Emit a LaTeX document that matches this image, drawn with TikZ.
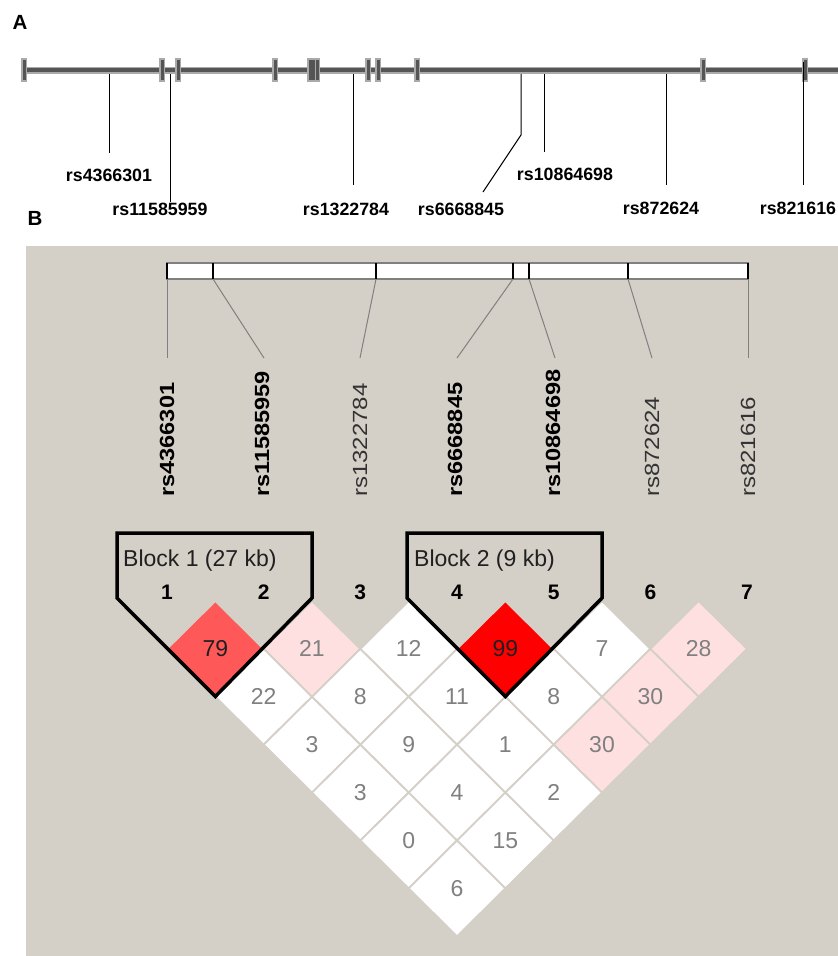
\documentclass[tikz,border=0pt]{standalone}
\usepackage{fontspec}
\setmainfont{Liberation Sans}
\definecolor{bgB}{RGB}{212,208,200}
\definecolor{pinkA}{RGB}{255,224,224}
\definecolor{redA}{RGB}{255,88,88}
\definecolor{redB}{RGB}{255,0,0}
\definecolor{numgrey}{RGB}{128,128,128}
\definecolor{darktxt}{RGB}{32,32,32}
\definecolor{trackcol}{RGB}{85,85,85}
\definecolor{halocol}{RGB}{170,170,170}
\definecolor{regtxt}{RGB}{50,50,50}
\begin{document}
\begin{tikzpicture}[x=1pt,y=-1pt,
  panel/.style={font=\fontsize{20.5}{22}\selectfont\bfseries, inner sep=0},
  alabel/.style={font=\fontsize{17.8}{20}\selectfont\bfseries, inner sep=0},
  trackhalo/.style={halocol, line width=7},
  trackcore/.style={trackcol, line width=3.5},
  tickhalo/.style={halocol, line width=6},
  tickcore/.style={trackcol, line width=3},
  snpline/.style={black, line width=1},
  bar/.style={draw=gray, line width=1.3, fill=white},
  bartick/.style={black, line width=2},
  conn/.style={gray, line width=1},
  rbold/.style={font=\fontsize{20.5}{22}\selectfont\bfseries, rotate=90, anchor=west, inner sep=0},
  rreg/.style={font=\fontsize{20.5}{22}\selectfont, text=regtxt, rotate=90, anchor=west, inner sep=0},
  numlab/.style={font=\fontsize{21}{22}\selectfont\bfseries, inner sep=0},
  blocklab/.style={font=\fontsize{23}{24}\selectfont, text=darktxt, inner sep=0, anchor=base west},
  cellbox/.style={draw=bgB, line width=1.8},
  cellnum/.style={font=\fontsize{23}{24}\selectfont, inner sep=0},
  blockline/.style={black, line width=3.5, line join=miter}]
\useasboundingbox (0,0) rectangle (838,956);

% ---------- Panel A ----------
\node[panel] (A) at (20,22) {A};
\coordinate (trL) at (22,70);
\coordinate (trR) at (838,70);
\draw[trackhalo] (trL) -- (trR);
\draw[trackcore] (trL) -- (trR);
\foreach \x in {24,162,178,275,310,313.5,317,368,378,417,703,805} {
  \draw[tickhalo] (\x,58) -- (\x,82);
}
\foreach \x in {24,162,178,275,310,313.5,317,368,378,417,703,805} {
  \draw[tickcore] (\x,60) -- (\x,80);
}
\node[alabel] (a1) at (109,175) {rs4366301};
\node[alabel] (a2) at (160,209) {rs11585959};
\node[alabel] (a3) at (346,209) {rs1322784};
\node[alabel] (a4) at (461,209) {rs6668845};
\node[alabel] (a5) at (565,174) {rs10864698};
\node[alabel] (a6) at (661,208) {rs872624};
\node[alabel] (a7) at (798,208) {rs821616};

\coordinate (s1) at (109,74);  \coordinate (f1) at (109,153);
\coordinate (s2) at (170,74);  \coordinate (f2) at (170,202);
\coordinate (s3) at (353,74);  \coordinate (f3) at (353,185);
\coordinate (s4) at (521,74);  \coordinate (k4) at (521,135); \coordinate (f4) at (483,192);
\coordinate (s5) at (544,74);  \coordinate (f5) at (544,152);
\coordinate (s6) at (666,74);  \coordinate (f6) at (666,185);
\coordinate (s7) at (803,62);  \coordinate (f7) at (803,185);
\draw[snpline] (s1) -- (f1);
\draw[snpline] (s2) -- (f2);
\draw[snpline] (s3) -- (f3);
\draw[snpline] (s4) -- (k4) -- (f4);
\draw[snpline] (s5) -- (f5);
\draw[snpline] (s6) -- (f6);
\draw[snpline] (s7) -- (f7);

% ---------- Panel B ----------
\node[panel] (B) at (35,218) {B};
\fill[bgB] (26,246) rectangle (838,956);

\draw[bar] (167,263) rectangle (748,279);
\foreach \x [count=\k] in {167,213,376,513,529,628,748} {
  \coordinate (t\k) at (\x,279);
  \draw[bartick] (\x,263) -- (t\k);
}
\foreach \x [count=\k] in {167,264,360,457,555,652,748} {
  \coordinate (e\k) at (\x,358);
  \draw[conn] (t\k) -- (e\k);
}

\node[rbold] (b1) at (167,497) {\scalebox{1.15}[1]{rs4366301}};
\node[rbold] (b2) at (262,497) {\scalebox{1.15}[1]{rs11585959}};
\node[rreg]  (b3) at (360,497) {\scalebox{1.17}[1]{rs1322784}};
\node[rbold] (b4) at (455,497) {\scalebox{1.15}[1]{rs6668845}};
\node[rbold] (b5) at (553,497) {\scalebox{1.15}[1]{rs10864698}};
\node[rreg]  (b6) at (652,497) {\scalebox{1.17}[1]{rs872624}};
\node[rreg]  (b7) at (748,497) {\scalebox{1.17}[1]{rs821616}};

% LD cells
\foreach \i/\j/\v/\f/\t in {
  1/2/79/redA/darktxt, 2/3/21/pinkA/numgrey, 3/4/12/white/numgrey,
  4/5/99/redB/darktxt, 5/6/7/white/numgrey, 6/7/28/pinkA/numgrey,
  1/3/22/white/numgrey, 2/4/8/white/numgrey, 3/5/11/white/numgrey,
  4/6/8/white/numgrey, 5/7/30/pinkA/numgrey,
  1/4/3/white/numgrey, 2/5/9/white/numgrey, 3/6/1/white/numgrey,
  4/7/30/pinkA/numgrey,
  1/5/3/white/numgrey, 2/6/4/white/numgrey, 3/7/2/white/numgrey,
  1/6/0/white/numgrey, 2/7/15/white/numgrey,
  1/7/6/white/numgrey} {
  \pgfmathsetmacro\cx{167+(\i+\j-2)*48.333}
  \pgfmathsetmacro\cy{648.9+(\j-\i-1)*47.9}
  \path[cellbox, fill=\f] (\cx,\cy-47.9) -- (\cx+48.333,\cy) -- (\cx,\cy+47.9) -- (\cx-48.333,\cy) -- cycle;
  \node[cellnum, text=\t] (c\i\j) at (\cx,\cy) {\v};
}

% marker numbers
\foreach \k in {1,...,7} {
  \pgfmathsetmacro\mx{167+(\k-1)*96.667}
  \node[numlab] (n\k) at (\mx,592.5) {\k};
}

% blocks
\draw[blockline] (117,533) -- (312,533) -- (312,598) -- (215.3,696.5) -- (117,598) -- cycle;
\draw[blockline] (407,533) -- (602,533) -- (602,598) -- (505.3,696.5) -- (407,598) -- cycle;
\node[blocklab] (blk1) at (123,566.5) {Block 1 (27 kb)};
\node[blocklab] (blk2) at (414,566.5) {Block 2 (9 kb)};
\end{tikzpicture}
\end{document}
